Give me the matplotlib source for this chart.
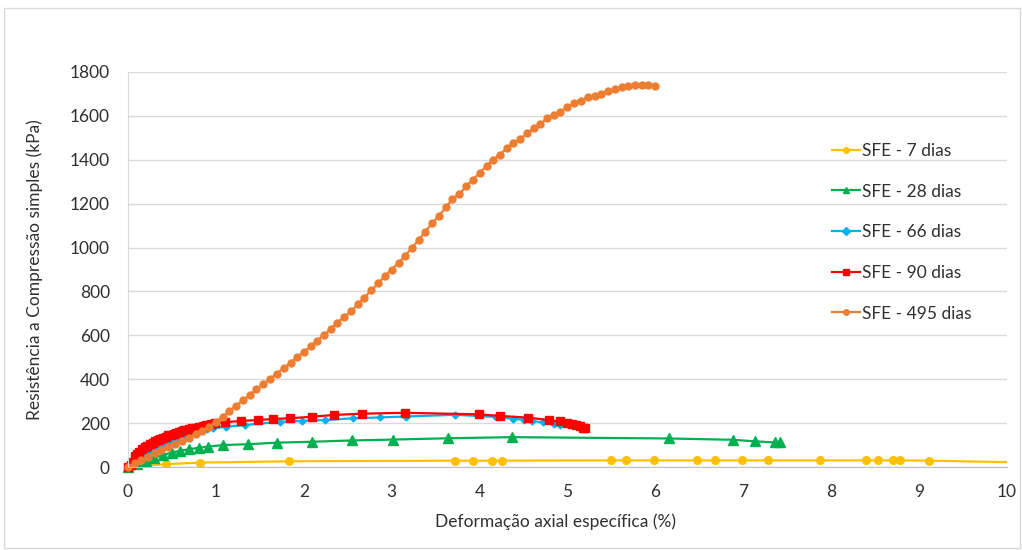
import matplotlib.pyplot as plt
from matplotlib.patches import Rectangle

plt.rcParams['font.family'] = ['Lato', 'DejaVu Sans']

# --- dados --------------------------------------------------------------------
x_7 = [0, 0.43, 0.82, 1.83, 3.72, 3.92, 4.14, 4.25, 5.49, 5.67, 5.98, 6.47, 6.68,
       6.99, 7.28, 7.87, 8.40, 8.53, 8.70, 8.78, 9.11, 10.4]
y_7 = [0, 13, 20, 26, 29, 29, 29, 29, 30, 30, 30, 30, 30,
       30, 30, 30, 30, 30, 30, 30, 29, 19]

x_28 = [0, 0.10, 0.20, 0.30, 0.40, 0.50, 0.59, 0.70, 0.81, 0.91, 1.08, 1.37, 1.70,
        2.09, 2.55, 3.02, 3.64, 4.37, 6.15, 6.88, 7.13, 7.36, 7.42]
y_28 = [0, 12, 28, 42, 55, 66, 74, 81, 88, 93, 100, 104, 111,
        115, 121, 125, 131, 136, 130, 124, 117, 112, 112]

x_66 = [0, 0.05, 0.10, 0.15, 0.20, 0.25, 0.30, 0.35, 0.40, 0.45, 0.50, 0.55, 0.60,
        0.65, 0.70, 0.75, 0.80, 0.85, 0.90, 0.97, 1.12, 1.33, 1.73, 1.98, 2.24,
        2.56, 2.87, 3.16, 3.72, 4.19, 4.38, 4.50, 4.60, 4.72, 4.85, 4.91]
y_66 = [0, 12, 28, 45, 60, 74, 86, 97, 107, 116, 124, 132, 139,
        146, 152, 158, 163, 168, 172, 176, 184, 191, 206, 210, 214,
        222, 226, 230, 238, 228, 220, 215, 210, 203, 197, 193]

x_90 = [0, 0.03, 0.06, 0.08, 0.10, 0.13, 0.16, 0.19, 0.22, 0.25, 0.28, 0.31, 0.34,
        0.37, 0.40, 0.43, 0.46, 0.49, 0.52, 0.55, 0.58, 0.61, 0.64, 0.67, 0.70,
        0.73, 0.77, 0.81, 0.85, 0.89, 0.94, 0.99, 1.10, 1.29, 1.48, 1.65, 1.84,
        2.09, 2.34, 2.66, 3.15, 3.99, 4.23, 4.55, 4.79, 4.91, 4.99, 5.05, 5.10,
        5.14, 5.18, 5.20]
y_90 = [0, 8, 25, 50, 60, 70, 80, 89, 97, 104, 111, 117, 123,
        129, 134, 139, 144, 148, 152, 156, 160, 164, 167, 170, 173,
        176, 179, 183, 187, 191, 195, 199, 204, 210, 214, 219, 222,
        229, 237, 243, 247, 240, 233, 225, 214, 208, 200, 195, 190,
        185, 180, 176]

x_495 = [0, 0.08, 0.15, 0.23, 0.31, 0.38, 0.46, 0.54, 0.61, 0.69, 0.77, 0.84, 0.92,
         1.00, 1.08, 1.15, 1.23, 1.31, 1.39, 1.46, 1.54, 1.62, 1.69, 1.77, 1.85,
         1.92, 2.00, 2.08, 2.15, 2.23, 2.31, 2.38, 2.46, 2.54, 2.62, 2.69, 2.77,
         2.85, 2.92, 3.00, 3.08, 3.15, 3.23, 3.31, 3.38, 3.46, 3.54, 3.62, 3.69,
         3.77, 3.85, 3.92, 4.00, 4.08, 4.15, 4.23, 4.31, 4.38, 4.46, 4.54, 4.62,
         4.69, 4.77, 4.85, 4.92, 5.00, 5.08, 5.15, 5.23, 5.31, 5.38, 5.46, 5.54,
         5.62, 5.69, 5.77, 5.85, 5.92, 6.00]
y_495 = [0, 18, 32, 47, 62, 76, 90, 104, 119, 134, 150, 166, 182,
         205, 230, 254, 279, 305, 330, 354, 378, 402, 426, 450, 474,
         500, 524, 550, 576, 602, 630, 658, 684, 710, 744, 772, 806,
         838, 870, 900, 930, 962, 998, 1036, 1072, 1110, 1146, 1184, 1220,
         1244, 1280, 1308, 1340, 1372, 1400, 1424, 1452, 1478, 1494, 1520, 1544,
         1562, 1590, 1604, 1618, 1640, 1660, 1670, 1686, 1692, 1702, 1712, 1722,
         1732, 1738, 1742, 1742, 1740, 1735]

x_ticks = list(range(0, 11))
y_ticks = list(range(0, 1801, 200))

# --- figura -------------------------------------------------------------------
fig = plt.figure(figsize=(10.22, 5.5), dpi=100)
ax = fig.add_axes([0.1252, 0.1509, 0.8601, 0.7182])

# moldura externa (estilo Excel)
fig.patches.append(Rectangle((0.004, 0.003), 0.994, 0.982, transform=fig.transFigure,
                             fill=False, edgecolor='#D9D9D9', linewidth=1))

# a serie de 7 dias passa de x=10, entao fica recortada; as outras nao
ax.plot(x_7, y_7, color='#FFC000', lw=1.6, marker='o', ms=5.5, label='SFE - 7 dias')
ax.plot(x_28, y_28, color='#00B050', lw=1.6, marker='^', ms=7, label='SFE - 28 dias',
        clip_on=False)
ax.plot(x_66, y_66, color='#00B0F0', lw=1.6, marker='D', ms=3.5, label='SFE - 66 dias',
        clip_on=False)
ax.plot(x_90, y_90, color='#FF0000', lw=1.6, marker='s', ms=6, label='SFE - 90 dias',
        clip_on=False)
ax.plot(x_495, y_495, color='#ED7D31', lw=1.6, marker='o', ms=5, label='SFE - 495 dias',
        clip_on=False)

ax.set_xlim(0, 10)
ax.set_ylim(0, 1800)
ax.set_xticks(x_ticks)
ax.set_yticks(y_ticks)
ax.tick_params(length=0, labelsize=12.5, colors='#303030')
ax.tick_params(axis='y', pad=13)
ax.tick_params(axis='x', pad=12)
ax.grid(axis='y', color='#D9D9D9', lw=1)
ax.set_axisbelow(True)
for s in ['top', 'right']:
    ax.spines[s].set_visible(False)
ax.spines['left'].set_color('#D9D9D9')
ax.spines['bottom'].set_color('#BFBFBF')

ax.set_xlabel('Deformação axial específica (%)', fontsize=12.5, color='#303030')
ax.set_ylabel('Resistência a Compressão simples (kPa)', fontsize=12.5, color='#303030')
ax.xaxis.set_label_coords(0.486, -0.117)
ax.yaxis.set_label_coords(-0.097, 0.5)

leg = ax.legend(loc='upper left', bbox_to_anchor=(0.783, 0.86), frameon=False,
                fontsize=12.5, labelspacing=1.42, handlelength=1.6, handletextpad=0.15,
                labelcolor='#303030')
for h in leg.legend_handles:
    h.set_markersize(4)

fig.savefig('out.png', dpi=100)
